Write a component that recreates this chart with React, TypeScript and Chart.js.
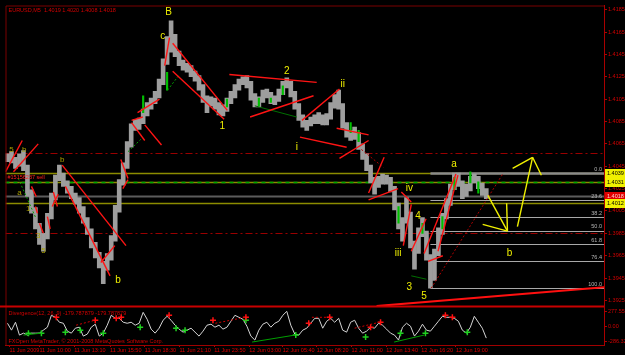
import React, { useEffect, useRef } from 'react';
import { Chart, registerables } from 'chart.js';
Chart.register(...registerables);

// ---------- DATA ----------
const barHighs = [
  1.4056, 1.4058, 1.4053, 1.4056, 1.4059, 1.4046, 1.4024, 1.4008, 1.3994, 1.3985,
  1.4003, 1.4021, 1.4037, 1.4046, 1.4039, 1.4032, 1.4027, 1.4021, 1.4017, 1.4009,
  1.3999, 1.3989, 1.3977, 1.3968, 1.3960, 1.3967, 1.3983, 1.4010, 1.4033, 1.4048,
  1.4067, 1.4083, 1.4087, 1.4088, 1.4096, 1.4102, 1.4106, 1.4112, 1.4123, 1.4141,
  1.4161, 1.4175, 1.4163, 1.4148, 1.4140, 1.4137, 1.4135, 1.4130, 1.4126, 1.4118,
  1.4108, 1.4107, 1.4106, 1.4102, 1.4100, 1.4106, 1.4112, 1.4118, 1.4123, 1.4125,
  1.4126, 1.4121, 1.4110, 1.4107, 1.4113, 1.4114, 1.4111, 1.4108, 1.4114, 1.4121,
  1.4124, 1.4121, 1.4112, 1.4101, 1.4091, 1.4086, 1.4089, 1.4091, 1.4093, 1.4091,
  1.4092, 1.4102, 1.4109, 1.4113, 1.4101, 1.4084, 1.4077, 1.4080, 1.4075, 1.4065,
  1.4056, 1.4046, 1.4035, 1.4036, 1.4038, 1.4037, 1.4035, 1.4027, 1.4012, 1.3999,
  1.4017, 1.4004, 1.3978, 1.3990, 1.3999, 1.3987, 1.3966, 1.3971, 1.3990, 1.4003,
  1.4016, 1.4029, 1.4039, 1.4039, 1.4032, 1.4029, 1.4036, 1.4038, 1.4036, 1.4030,
  1.4025,
];
const barLows = [
  1.4049, 1.4048, 1.4043, 1.4045, 1.4041, 1.4018, 1.4003, 1.3989, 1.3975, 1.3969,
  1.3980, 1.3998, 1.4015, 1.4032, 1.4027, 1.4021, 1.4016, 1.4011, 1.4003, 1.3994,
  1.3984, 1.3972, 1.3963, 1.3954, 1.3940, 1.3952, 1.3961, 1.3978, 1.4004, 1.4028,
  1.4043, 1.4062, 1.4077, 1.4078, 1.4083, 1.4090, 1.4096, 1.4101, 1.4106, 1.4118,
  1.4136, 1.4147, 1.4143, 1.4135, 1.4131, 1.4129, 1.4125, 1.4121, 1.4113, 1.4102,
  1.4093, 1.4099, 1.4096, 1.4091, 1.4090, 1.4094, 1.4101, 1.4106, 1.4113, 1.4118,
  1.4115, 1.4104, 1.4098, 1.4098, 1.4102, 1.4106, 1.4101, 1.4100, 1.4103, 1.4109,
  1.4115, 1.4107, 1.4096, 1.4086, 1.4080, 1.4077, 1.4081, 1.4083, 1.4083, 1.4082,
  1.4082, 1.4087, 1.4097, 1.4096, 1.4079, 1.4071, 1.4068, 1.4069, 1.4060, 1.4051,
  1.4041, 1.4030, 1.4020, 1.4026, 1.4029, 1.4029, 1.4022, 1.4006, 1.3989, 1.3978,
  1.3994, 1.3972, 1.3953, 1.3967, 1.3982, 1.3961, 1.3936, 1.3943, 1.3965, 1.3984,
  1.3998, 1.4010, 1.4024, 1.4027, 1.4016, 1.4018, 1.4023, 1.4030, 1.4025, 1.4019,
  1.4016,
];
const upBarIdx = [34, 40, 55, 63, 66, 69, 86, 88, 98, 104, 109, 112, 116, 118];
const upBarLows = [1.4093, 1.4113, 1.4098, 1.4099, 1.4102, 1.4109, 1.4075, 1.4067, 1.3994, 1.3985, 1.3989, 1.4024, 1.4030, 1.4021];
const upBarHighs = [1.4108, 1.4129, 1.4105, 1.4106, 1.4106, 1.4117, 1.4084, 1.4077, 1.4009, 1.3994, 1.4000, 1.4035, 1.4040, 1.4031];

const oscValues = [
  56, -75, 75, -169, -132, -169, -132, -132, -132, -75,
  -19, 207, 169, 75, 56, -94, -132, -38, -19, -188,
  -150, -19, 38, -188, -132, 19, 207, 150, 150, 75,
  56, 75, 19, 56, 263, 132, -56, -132, -38, 113,
  188, 113, 19, -56, -113, -75, -38, -113, -188, -94,
  19, 38, -19, 19, -56, -19, 94, 207, 169, 132,
  0, -188, -263, -75, 38, 75, -19, 56, 94, 207,
  282, 19, -150, -169, -75, -38, 56, 150, 150, -38,
  94, 150, 75, 150, -75, -113, 75, 113, -38, -132,
  -94, -19, -38, 56, 19, -56, -132, -169, -263, -19,
  56, 0, -188, -94, 38, -75, -94, 0, 94, 188,
  169, 169, 150, 94, -75, -132, -19, 188, 75, -38,
  -226,
];
const redCrossX = [12.25, 22, 27.25, 28.5, 40.5, 51.5, 59.75, 75.5, 80.75, 91, 93.5, 109.75, 111.5];
const redCrossY = [169, 113, 150, 169, 207, 113, 169, 56, 169, -19, 75, 207, 169];
const greenCrossX = [5.25, 8.5, 14.5, 18.25, 24, 33.25, 42.25, 44.5, 59.75, 72.25, 89.75, 98.5, 104.75, 115.25];
const greenCrossY = [-132, -132, -113, -75, -132, -19, -38, -75, 113, -169, -207, -132, -132, -113];
const oscGreenLines = [[61.3, -301, 72, -169], [96.9, -301, 104.4, -169], [4, -169, 8.5, -132]];
const oscRedDotLines = [[17.2, 19, 21.9, 113], [87, -38, 93.2, 75], [52.1, 56, 59.6, 169], [76.3, 169, 80.5, 169]];

const priceTicks = [1.3925, 1.3945, 1.3965, 1.3985, 1.4005, 1.4025, 1.4045, 1.4065, 1.4085, 1.4105, 1.4125, 1.4145, 1.4165, 1.4185];
const oscTicks = [-286.327, 0, 277.558];
const oscTickLabels = ['-286.327', '0.00', '277.558'];
const timeLabels = ['11 Jun 2009', '11 Jun 10:00', '11 Jun 13:10', '11 Jun 15:50', '11 Jun 18:30', '11 Jun 21:10', '11 Jun 23:50', '12 Jun 03:00', '12 Jun 05:40', '12 Jun 08:20', '12 Jun 11:00', '12 Jun 13:40', '12 Jun 16:20', '12 Jun 19:00'];
const timeTickIdx = [0.5, 8.0, 16.7, 25.7, 34.4, 43.1, 51.8, 60.6, 69.0, 77.5, 86.2, 94.9, 103.7, 112.4];

const dashDotLevels = [1.4057, 1.3985];
const oliveLevels = [1.4039, 1.4031, 1.4012];
const greenDashLevel = 1.4031;
const bidLevel = 1.4018;
const fibHigh = 1.4039;
const fibLow = 1.3936;
const fibStartIdx = 106;
const fibRatios = [0, 0.236, 0.382, 0.5, 0.618, 0.764, 1];
const fibLabels = ['0.0', '23.6', '38.2', '50.0', '61.8', '76.4', '100.0'];
const boxPrices = [1.4039, 1.4031, 1.4018, 1.4012];
const boxKinds = ['y', 'y', 'r', 'y'];

const redLines = [
  [-0.5, 1.4040, 3.7, 1.4068], [1.5, 1.4040, 7.7, 1.4065],
  [6.0, 1.4027, 7.2, 1.4018], [7.0, 1.4009, 7.5, 1.4003], [8.0, 1.3994, 9.0, 1.3985],
  [10.0, 1.4000, 10.7, 1.3989], [11.5, 1.4022, 12.5, 1.4009], [11.2, 1.4009, 12.7, 1.4020],
  [13.7, 1.4046, 29.7, 1.3974], [14.5, 1.4027, 25.7, 1.3947], [23.4, 1.3959, 26.9, 1.3974],
  [28.4, 1.4051, 30.2, 1.4034], [28.9, 1.4025, 30.2, 1.4033],
  [31.1, 1.4084, 34.4, 1.4068], [34.4, 1.4082, 38.6, 1.4064], [32.6, 1.4093, 38.1, 1.4105], [31.1, 1.4086, 33.9, 1.4089],
  [39.4, 1.4135, 40.6, 1.4160], [41.4, 1.4155, 55.1, 1.4095], [41.4, 1.4130, 54.3, 1.4087],
  [55.6, 1.4127, 77.5, 1.4120], [60.8, 1.4089, 76.7, 1.4108], [73.8, 1.4086, 83.2, 1.4114],
  [73.3, 1.4071, 85.0, 1.4062], [82.5, 1.4079, 90.5, 1.4073], [83.2, 1.4052, 90.5, 1.4068],
  [90.5, 1.4021, 94.4, 1.4053], [90.5, 1.4015, 97.9, 1.4025], [98.7, 1.4022, 101.2, 1.4013],
  [99.2, 1.3974, 101.2, 1.4011], [101.2, 1.3969, 104.9, 1.3998], [104.4, 1.3967, 112.4, 1.4038],
  [107.9, 1.3969, 112.9, 1.4037], [105.4, 1.3960, 109.1, 1.3965],
];
const supportLine = [92.5, 1.3920, 149.8, 1.3937];
const greenLines = [[62.0, 1.4099, 72.5, 1.4089], [101.2, 1.3947, 105.0, 1.3944]];
const greenDotLines = [[40.1, 1.4113, 43.1, 1.4127], [30.2, 1.4058, 33.4, 1.4069], [2.7, 1.4034, 7.2, 1.3998]];
const redDotLines = [[88.7, 1.4060, 94.2, 1.4044], [106.2, 1.3936, 124.1, 1.4038]];
const yellowArrows = [
  [120.4, 1.4019, 125.3, 1.3987], [119.1, 1.3993, 125.3, 1.3987], [125.1, 1.4012, 125.3, 1.3987],
  [127.8, 1.3991, 131.6, 1.4053], [126.6, 1.4043, 131.6, 1.4053], [131.6, 1.4053, 133.8, 1.4037],
];
const waveLabels: [number, number, string][] = [
  [40.4, 1.4183, 'B'], [38.9, 1.4161, 'c'], [53.8, 1.4081, '1'], [70.0, 1.4130, '2'], [84.0, 1.4118, 'ii'],
  [72.5, 1.4062, 'i'], [97.9, 1.3967, 'iii'], [100.7, 1.4025, 'iv'], [100.7, 1.3937, '3'], [102.9, 1.4000, '4'],
  [104.4, 1.3929, '5'], [111.9, 1.4047, 'a'], [125.8, 1.3967, 'b'], [27.7, 1.3943, 'b'],
];
const oliveLabels: [number, number, string][] = [
  [1.0, 1.4060, '5'], [4.2, 1.4060, 'b'], [3.0, 1.4021, 'a'], [5.2, 1.4007, '1'], [7.7, 1.3983, '3'], [9.0, 1.3969, '5'], [13.7, 1.4051, 'b'],
];
const orderPrice = 1.4035;

const PRICE_MIN = 1.391969;
const PRICE_MAX = 1.418872;
const FONT = "'Liberation Sans', Arial, sans-serif";

function seg(ctx: any, xs: any, ys: any, a: number[], color: string, width: number, dash: number[] = []) {
  ctx.beginPath();
  ctx.strokeStyle = color;
  ctx.lineWidth = width;
  ctx.setLineDash(dash);
  ctx.moveTo(xs.getPixelForValue(a[0]), ys.getPixelForValue(a[1]));
  ctx.lineTo(xs.getPixelForValue(a[2]), ys.getPixelForValue(a[3]));
  ctx.stroke();
}

const overlay = {
  id: 'overlay',
  beforeDatasetsDraw(chart: any) {
    const { ctx, chartArea: ca, scales } = chart;
    const x = scales.x, y = scales.y;
    ctx.save();
    ctx.beginPath();
    ctx.rect(ca.left, y.top, ca.right - ca.left, y.bottom - y.top);
    ctx.clip();
    const hline = (p: number, color: string, w: number, dash: number[] = [], x0 = ca.left) => {
      const py = Math.round(y.getPixelForValue(p)) + 0.5;
      ctx.beginPath();
      ctx.strokeStyle = color;
      ctx.lineWidth = w;
      ctx.setLineDash(dash);
      ctx.moveTo(x0, py);
      ctx.lineTo(ca.right, py);
      ctx.stroke();
    };
    dashDotLevels.forEach((p) => hline(p, '#9a0000', 1, [7, 3, 2, 3]));
    oliveLevels.forEach((p) => hline(p, '#8c8c00', 1.6));
    hline(greenDashLevel, '#00a800', 1.6, [4, 4]);
    hline(bidLevel, '#5c5c5c', 2);
    const fx = x.getPixelForValue(fibStartIdx);
    fibRatios.forEach((r, i) => {
      const p = fibHigh - r * (fibHigh - fibLow);
      hline(p, i === 0 ? '#8a8a8a' : '#a8a8a8', i === 0 ? 2.5 : 1, [], fx);
    });
    ctx.restore();
  },
  afterDatasetsDraw(chart: any) {
    const { ctx, chartArea: ca, scales } = chart;
    const x = scales.x, y = scales.y, y2 = scales.y2;
    ctx.save();
    ctx.beginPath();
    ctx.rect(ca.left, y.top, ca.right - ca.left, y.bottom - y.top);
    ctx.clip();
    greenDotLines.forEach((l) => seg(ctx, x, y, l, '#00a000', 1, [2, 2]));
    greenLines.forEach((l) => seg(ctx, x, y, l, '#007000', 1));
    redDotLines.forEach((l) => seg(ctx, x, y, l, '#b00000', 1, [2, 2]));
    redLines.forEach((l) => seg(ctx, x, y, l, '#ff1414', 1.4));
    seg(ctx, x, y, supportLine, '#ff1010', 2);
    yellowArrows.forEach((l) => seg(ctx, x, y, l, '#f0f000', 1.4));
    ctx.setLineDash([]);
    // fib labels
    ctx.font = `5.5px ${FONT}`;
    ctx.fillStyle = '#b4b4b4';
    ctx.textAlign = 'right';
    ctx.textBaseline = 'bottom';
    fibRatios.forEach((r, i) => {
      const p = fibHigh - r * (fibHigh - fibLow);
      ctx.fillText(fibLabels[i], ca.right - 2, y.getPixelForValue(p) - 1);
    });
    // wave labels
    ctx.textAlign = 'center';
    ctx.textBaseline = 'middle';
    ctx.font = `10px ${FONT}`;
    ctx.fillStyle = '#eeee00';
    waveLabels.forEach(([i, p, t]) => ctx.fillText(t, x.getPixelForValue(i), y.getPixelForValue(p)));
    ctx.font = `8px ${FONT}`;
    ctx.fillStyle = '#a8a000';
    oliveLabels.forEach(([i, p, t]) => ctx.fillText(t, x.getPixelForValue(i), y.getPixelForValue(p)));
    // order label
    ctx.font = `5.5px ${FONT}`;
    ctx.fillStyle = '#ff2020';
    ctx.textAlign = 'left';
    ctx.fillText('#15156237 sell', ca.left + 2, y.getPixelForValue(orderPrice));
    ctx.restore();

    // indicator pane lines
    ctx.save();
    ctx.beginPath();
    ctx.rect(ca.left, y2.top, ca.right - ca.left, y2.bottom - y2.top);
    ctx.clip();
    oscGreenLines.forEach((l) => seg(ctx, x, y2, l, '#00a000', 1));
    oscRedDotLines.forEach((l) => seg(ctx, x, y2, l, '#d00000', 1, [2, 2]));
    ctx.restore();
  },
  afterDraw(chart: any) {
    const { ctx, chartArea: ca, scales } = chart;
    const y = scales.y, y2 = scales.y2;
    ctx.save();
    ctx.setLineDash([]);
    // frame
    ctx.strokeStyle = '#7a0000';
    ctx.lineWidth = 1;
    ctx.beginPath();
    ctx.moveTo(ca.left + 0.5, ca.bottom);
    ctx.lineTo(ca.left + 0.5, ca.top + 0.5);
    ctx.lineTo(ca.right, ca.top + 0.5);
    ctx.stroke();
    // separator
    ctx.strokeStyle = '#c80000';
    ctx.lineWidth = 2;
    ctx.beginPath();
    ctx.moveTo(0, y2.top);
    ctx.lineTo(ca.right, y2.top);
    ctx.stroke();
    // price boxes
    ctx.font = `5.5px ${FONT}`;
    ctx.textAlign = 'left';
    ctx.textBaseline = 'middle';
    boxPrices.forEach((p, i) => {
      const py = Math.round(y.getPixelForValue(p));
      ctx.fillStyle = boxKinds[i] === 'r' ? '#e00000' : '#f0f000';
      ctx.fillRect(ca.right + 1, py - 4, 20, 9);
      ctx.fillStyle = boxKinds[i] === 'r' ? '#ffd0d0' : '#000000';
      ctx.fillText(p.toFixed(4), ca.right + 3, py + 0.5);
    });
    // header texts
    ctx.fillStyle = '#d40000';
    ctx.font = `5.5px ${FONT}`;
    ctx.fillText('EURUSD,M5  1.4019 1.4020 1.4008 1.4018', ca.left + 3, ca.top + 5);
    ctx.fillText('Divergence(12, 26, 9) -179.787879 -179.787879', ca.left + 3, y2.top + 7);
    ctx.fillText('FXOpen MetaTrader, \u00a9 2001-2008 MetaQuotes Software Corp.', ca.left + 3, y2.bottom - 4);
    ctx.restore();
  },
};

export default function App() {
  const ref = useRef<HTMLCanvasElement>(null);
  useEffect(() => {
    document.body.style.margin = '0';
    document.body.style.background = '#000';
    const chart = new Chart(ref.current as HTMLCanvasElement, {
      type: 'bar',
      data: {
        datasets: [
          {
            type: 'bar',
            data: barHighs.map((h, i) => ({ x: i, y: [barLows[i], h] })) as any,
            backgroundColor: '#9e9e9e',
            barPercentage: 1,
            categoryPercentage: 1,
            grouped: false,
            order: 3,
            xAxisID: 'x',
            yAxisID: 'y',
          },
          {
            type: 'bar',
            data: upBarIdx.map((idx, i) => ({ x: idx, y: [upBarLows[i], upBarHighs[i]] })) as any,
            backgroundColor: '#00c000',
            barThickness: 1.5,
            grouped: false,
            order: 2,
            xAxisID: 'x',
            yAxisID: 'y',
          },
          {
            type: 'line',
            data: oscValues.map((v, i) => ({ x: i, y: v })),
            borderColor: '#d4d4d4',
            borderWidth: 1,
            pointRadius: 0,
            tension: 0,
            order: 1,
            xAxisID: 'x',
            yAxisID: 'y2',
          },
          {
            type: 'line',
            data: redCrossX.map((v, i) => ({ x: v, y: redCrossY[i] })),
            showLine: false,
            pointStyle: 'cross',
            pointRadius: 3,
            borderColor: '#ff1010',
            borderWidth: 1.5,
            order: 0,
            xAxisID: 'x',
            yAxisID: 'y2',
          },
          {
            type: 'line',
            data: greenCrossX.map((v, i) => ({ x: v, y: greenCrossY[i] })),
            showLine: false,
            pointStyle: 'cross',
            pointRadius: 3,
            borderColor: '#20d020',
            borderWidth: 1.5,
            order: 0,
            xAxisID: 'x',
            yAxisID: 'y2',
          },
        ] as any,
      },
      options: {
        animation: false,
        responsive: false,
        maintainAspectRatio: false,
        events: [],
        layout: { padding: { left: 2, top: 2, right: 0, bottom: 0 } },
        plugins: { legend: { display: false }, tooltip: { enabled: false } },
        scales: {
          x: {
            type: 'linear',
            position: 'bottom',
            min: -0.5,
            max: 149.5,
            offset: false,
            grid: { display: true, drawOnChartArea: false, drawTicks: true, tickLength: 2, color: '#b00000', offset: false },
            border: { display: true, color: '#a00000', width: 1 },
            ticks: {
              autoSkip: false,
              maxRotation: 0,
              align: 'start',
              padding: 0,
              color: '#e00000',
              font: { family: FONT, size: 5.5 },
              callback: (_v: any, i: number) => timeLabels[i] ?? '',
            },
            afterBuildTicks: (s: any) => { s.ticks = timeTickIdx.map((v) => ({ value: v })); },
            afterFit: (s: any) => { s.height = 10; },
          },
          y: {
            type: 'linear',
            position: 'right',
            stack: 'pane',
            stackWeight: 304,
            min: PRICE_MIN,
            max: PRICE_MAX,
            grid: { display: true, drawOnChartArea: false, drawTicks: true, tickLength: 3, color: '#b00000' },
            border: { display: true, color: '#a80000', width: 1 },
            ticks: {
              autoSkip: false,
              padding: 1,
              color: '#d00000',
              font: { family: FONT, size: 5.5 },
              callback: (v: any) => Number(v).toFixed(4),
            },
            afterBuildTicks: (s: any) => { s.ticks = priceTicks.map((v) => ({ value: v })); },
            afterFit: (s: any) => { s.width = 21; },
          },
          y2: {
            type: 'linear',
            position: 'right',
            stack: 'pane',
            stackWeight: 39,
            min: -357,
            max: 376,
            grid: { display: true, drawOnChartArea: false, drawTicks: true, tickLength: 3, color: '#b00000' },
            border: { display: true, color: '#a80000', width: 1 },
            ticks: {
              autoSkip: false,
              padding: 1,
              color: '#d00000',
              font: { family: FONT, size: 5.5 },
              callback: (_v: any, i: number) => oscTickLabels[i] ?? '',
            },
            afterBuildTicks: (s: any) => { s.ticks = oscTicks.map((v) => ({ value: v })); },
            afterFit: (s: any) => { s.width = 21; },
          },
        } as any,
      },
      plugins: [overlay],
    });
    return () => chart.destroy();
  }, []);
  return (
    <div style={{ position: 'fixed', left: 0, top: 0, width: 625, height: 355, background: '#000' }}>
      <canvas ref={ref} width={625} height={355} style={{ display: 'block', width: 625, height: 355 }} />
    </div>
  );
}
